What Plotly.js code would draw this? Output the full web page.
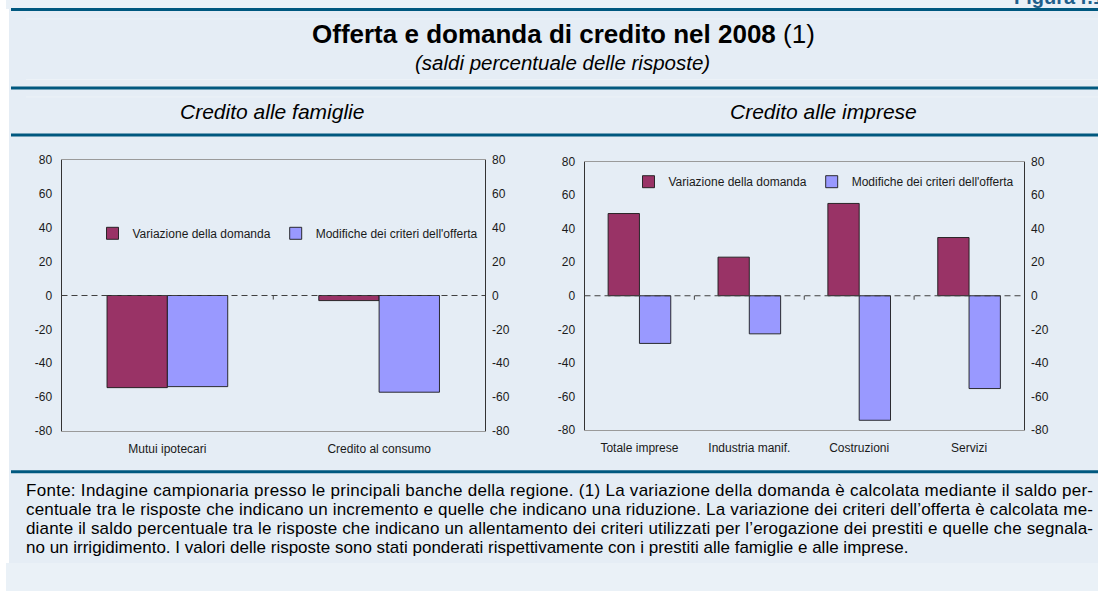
<!DOCTYPE html>
<html>
<head>
<meta charset="utf-8">
<script src="https://cdn.plot.ly/plotly-3.0.1.min.js"></script>
<style>html,body{margin:0;padding:0;background:#fff;}#chart{width:1098px;height:591px;}</style>
</head>
<body>
<div id="chart"></div>
<script>
// ---- data ----
const categorieFamiglie = ['Mutui ipotecari', 'Credito al consumo'];
const domandaFamiglie = [-54.4, -3];
const offertaFamiglie = [-53.8, -57.1];
const categorieImprese = ['Totale imprese', 'Industria manif.', 'Costruzioni', 'Servizi'];
const domandaImprese = [49, 23, 55, 34.7];
const offertaImprese = [-28.4, -22.7, -74.2, -55.3];
const serieNomi = ['Variazione della domanda', "Modifiche dei criteri dell'offerta"];
const yTickValori = [-80, -60, -40, -20, 0, 20, 40, 60, 80];
const yTickTesti = ['-80', '-60', '-40', '-20', '0', '20', '40', '60', '80'];
const titolo = '<b>Offerta e domanda di credito nel 2008</b> (1)';
const sottotitolo = '<i>(saldi percentuale delle risposte)</i>';
const pannelli = ['<i>Credito alle famiglie</i>', '<i>Credito alle imprese</i>'];
const figura = '<b>Figura r.1</b>';
const nota = [
  'Fonte: Indagine campionaria presso le principali banche della regione. (1) La variazione della domanda è calcolata mediante il saldo per-',
  'centuale tra le risposte che indicano un incremento e quelle che indicano una riduzione. La variazione dei criteri dell’offerta è calcolata me-',
  'diante il saldo percentuale tra le risposte che indicano un allentamento dei criteri utilizzati per l’erogazione dei prestiti e quelle che segnala-',
  'no un irrigidimento. I valori delle risposte sono stati ponderati rispettivamente con i prestiti alle famiglie e alle imprese.'
];

// ---- helpers ----
const W = 1098, H = 591;
const px = x => x / W;
const py = y => 1 - y / H;
const FONT = 'Arial, "Liberation Sans", sans-serif';
const C_DOM = '#993366', C_OFF = '#9999FF', C_LINE = '#00587F', C_BG = '#E5EDF5', C_BG2 = '#EAF1F7';

const barLine = {color: '#1a1a1a', width: 0.9};
const traces = [
  {type: 'bar', x: categorieFamiglie, y: domandaFamiglie, name: serieNomi[0], xaxis: 'x', yaxis: 'y', legend: 'legend',
   marker: {color: C_DOM, line: barLine}, hoverinfo: 'skip'},
  {type: 'bar', x: categorieFamiglie, y: offertaFamiglie, name: serieNomi[1], xaxis: 'x', yaxis: 'y', legend: 'legend',
   marker: {color: C_OFF, line: barLine}, hoverinfo: 'skip'},
  {type: 'bar', x: categorieImprese, y: domandaImprese, name: serieNomi[0], xaxis: 'x2', yaxis: 'y2', legend: 'legend2',
   marker: {color: C_DOM, line: barLine}, hoverinfo: 'skip'},
  {type: 'bar', x: categorieImprese, y: offertaImprese, name: serieNomi[1], xaxis: 'x2', yaxis: 'y2', legend: 'legend2',
   marker: {color: C_OFF, line: barLine}, hoverinfo: 'skip'},
  // invisible helpers so the right-hand value axes are drawn
  {type: 'scatter', mode: 'markers', x: categorieFamiglie, y: domandaFamiglie, xaxis: 'x', yaxis: 'y3', showlegend: false,
   marker: {opacity: 0}, hoverinfo: 'skip'},
  {type: 'scatter', mode: 'markers', x: categorieImprese, y: domandaImprese, xaxis: 'x2', yaxis: 'y4', showlegend: false,
   marker: {opacity: 0}, hoverinfo: 'skip'}
];

const tickFont = {family: FONT, size: 12, color: '#1a1a1a'};
const baseX = {showgrid: false, zeroline: false, showline: true, linecolor: '#9a9a9a', linewidth: 1, mirror: true,
  ticks: '', tickfont: tickFont, ticklabelstandoff: 7, fixedrange: true};
const baseY = {range: [-80, 80], tickmode: 'array', tickvals: yTickValori, ticktext: yTickTesti, showgrid: false,
  zeroline: false, showline: true, linecolor: '#333', linewidth: 1, mirror: true, ticks: '', tickfont: tickFont,
  ticklabelstandoff: 6, fixedrange: true};
const rightY = Object.assign({}, baseY, {side: 'right', showline: false, mirror: false});

const shapes = [
  // background panels
  {type: 'rect', xref: 'paper', yref: 'paper', x0: px(6), x1: 1, y0: py(9), y1: 1, fillcolor: C_BG2, line: {width: 0}, layer: 'below'},
  {type: 'rect', xref: 'paper', yref: 'paper', x0: px(9), x1: 1, y0: py(563), y1: py(9), fillcolor: C_BG, line: {width: 0}, layer: 'below'},
  {type: 'rect', xref: 'paper', yref: 'paper', x0: px(6), x1: 1, y0: 0, y1: py(563), fillcolor: C_BG2, line: {width: 0}, layer: 'below'}
];
// faint inner rules of the header band
[19, 79.5, 97].forEach(y => shapes.push({type: 'line', xref: 'paper', yref: 'paper', x0: px(26), x1: 1,
  y0: py(y), y1: py(y), line: {color: '#ECF2F7', width: 1}, layer: 'below'}));
// horizontal rules
[9.5, 88, 135, 471.7].forEach(y => shapes.push({type: 'line', xref: 'paper', yref: 'paper', x0: px(11), x1: 1,
  y0: py(y), y1: py(y), line: {color: C_LINE, width: 3}}));
// dashed zero lines
[['x', 'y'], ['x2', 'y2']].forEach(([xa, ya]) => shapes.push({type: 'line', xref: xa + ' domain', yref: ya,
  x0: 0, x1: 1, y0: 0, y1: 0, line: {color: '#404040', width: 1.2, dash: '6px,4px'}, layer: 'above'}));
// category separator ticks on the zero line
[[categorieFamiglie, 'x', 'y'], [categorieImprese, 'x2', 'y2']].forEach(([cats, xa, ya]) => {
  for (let i = 0; i < cats.length - 1; i++) {
    shapes.push({type: 'line', xref: xa, yref: ya, x0: i + 0.5, x1: i + 0.5, y0: 0, y1: -2.4,
      line: {color: '#404040', width: 1}});
  }
});

const annotations = [
  {text: titolo, xref: 'paper', yref: 'paper', x: px(563), y: py(34), xanchor: 'center', yanchor: 'middle', showarrow: false,
   font: {family: FONT, size: 26, color: '#000'}},
  {text: sottotitolo, xref: 'paper', yref: 'paper', x: px(562), y: py(63), xanchor: 'center', yanchor: 'middle', showarrow: false,
   font: {family: FONT, size: 20.5, color: '#000'}},
  {text: pannelli[0], xref: 'paper', yref: 'paper', x: px(272), y: py(112), xanchor: 'center', yanchor: 'middle', showarrow: false,
   font: {family: FONT, size: 21, color: '#000'}},
  {text: pannelli[1], xref: 'paper', yref: 'paper', x: px(823), y: py(112), xanchor: 'center', yanchor: 'middle', showarrow: false,
   font: {family: FONT, size: 21, color: '#000'}},
  {text: figura, xref: 'paper', yref: 'paper', x: px(1012), y: py(-3), xanchor: 'left', yanchor: 'middle', showarrow: false,
   font: {family: FONT, size: 20, color: '#1F5F8B'}}
];
nota.forEach((t, i) => annotations.push({text: t, xref: 'paper', yref: 'paper', x: px(24), y: py(490 + i * 19.3),
  xanchor: 'left', yanchor: 'middle', align: 'left', showarrow: false, font: {family: FONT, size: 17, color: '#000'}}));

const legendBase = {orientation: 'h', xanchor: 'center', yanchor: 'middle', bgcolor: 'rgba(0,0,0,0)',
  font: {family: FONT, size: 12, color: '#1a1a1a'}, itemwidth: 30, traceorder: 'normal'};

const layout = {
  width: W, height: H, margin: {l: 0, r: 0, t: 0, b: 0},
  paper_bgcolor: '#FFFFFF', plot_bgcolor: '#FFFFFF',
  barmode: 'group', bargap: 0.43, bargroupgap: 0,
  xaxis: Object.assign({}, baseX, {domain: [px(61.5), px(485)], anchor: 'y'}),
  yaxis: Object.assign({}, baseY, {domain: [py(431), py(160)], anchor: 'x'}),
  yaxis3: Object.assign({}, rightY, {overlaying: 'y', anchor: 'x'}),
  xaxis2: Object.assign({}, baseX, {domain: [px(584.5), px(1024)], anchor: 'y2'}),
  yaxis2: Object.assign({}, baseY, {domain: [py(430), py(161.5)], anchor: 'x2'}),
  yaxis4: Object.assign({}, rightY, {overlaying: 'y2', anchor: 'x2'}),
  legend: Object.assign({}, legendBase, {x: px(288), y: py(233.3)}),
  legend2: Object.assign({}, legendBase, {x: px(824), y: py(181.7)}),
  shapes: shapes,
  annotations: annotations,
  showlegend: true
};

// justify the first three footnote lines (the source text is justified)
function giustifica() {
  const destra = 1093;
  const host = document.getElementById('chart').getBoundingClientRect();
  document.querySelectorAll('.annotation-text').forEach(el => {
    const idx = nota.indexOf(el.textContent);
    if (idx >= 0 && idx < nota.length - 1) {
      const r = el.getBoundingClientRect();
      const target = destra - (r.left - host.left);
      if (target > r.width) {
        el.setAttribute('textLength', target.toFixed(1));
        el.setAttribute('lengthAdjust', 'spacing');
      }
    }
  });
}

Plotly.newPlot('chart', traces, layout, {displayModeBar: false, staticPlot: true}).then(giustifica);
</script>
</body>
</html>
